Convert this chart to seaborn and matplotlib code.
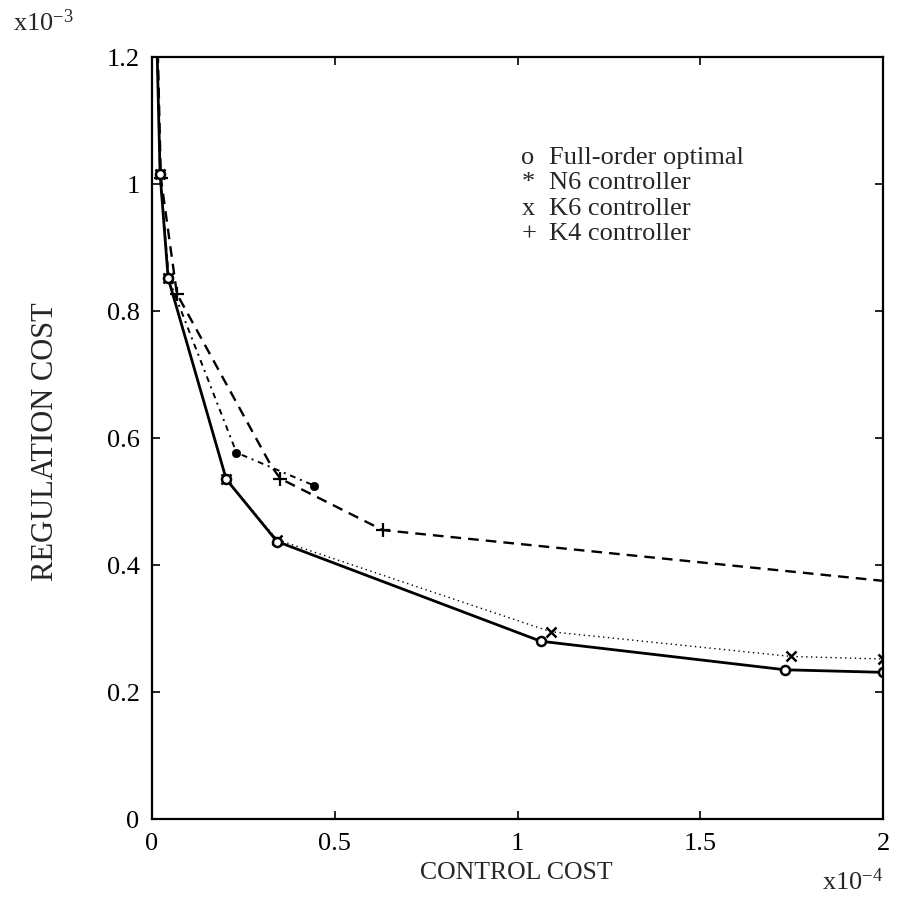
import matplotlib
matplotlib.use("Agg")
import matplotlib.pyplot as plt
import seaborn as sns
import pandas as pd

# ---- data (x in units of 1e-4, y in units of 1e-3) ----
full_x = [0.010, 0.022, 0.044, 0.203, 0.342, 1.063, 1.732, 2.000]
full_y = [1.300, 1.016, 0.852, 0.535, 0.437, 0.280, 0.235, 0.231]

n6_x = [0.010, 0.022, 0.046, 0.231, 0.444]
n6_y = [1.300, 1.016, 0.850, 0.577, 0.525]

k6_x = [0.010, 0.022, 0.044, 0.203, 0.342, 1.090, 1.748, 2.000]
k6_y = [1.300, 1.016, 0.852, 0.535, 0.440, 0.295, 0.256, 0.252]

k4_x = [0.012, 0.024, 0.068, 0.326, 0.351, 0.631, 2.000]
k4_y = [1.300, 1.010, 0.827, 0.556, 0.536, 0.455, 0.375]
k4_marked = [False, True, True, False, True, True, False]

legend_symbols = ["o", "*", "x", "+"]
legend_labels = ["Full-order optimal", "N6 controller", "K6 controller", "K4 controller"]

x_ticks = [0, 0.5, 1, 1.5, 2]
y_ticks = [0, 0.2, 0.4, 0.6, 0.8, 1.0, 1.2]

sns.set_theme(style="white")
plt.rcParams["font.family"] = ["Liberation Serif", "DejaVu Serif"]
plt.rcParams["mathtext.default"] = "regular"

fig = plt.figure(figsize=(9.05, 9.05), dpi=100)
ax = fig.add_axes([0.168, 0.095, 0.808, 0.842])

# K6 dotted (draw first so solid goes over)
sns.lineplot(x=k6_x, y=k6_y, ax=ax, sort=False, estimator=None, color="black",
             linewidth=1.0, linestyle=(0, (1, 2.5)), marker="x", markersize=7,
             markeredgewidth=1.8, markeredgecolor="black")
# K4 dashed
k4_mark_idx = [i for i, m in enumerate(k4_marked) if m]
sns.lineplot(x=k4_x, y=k4_y, ax=ax, sort=False, estimator=None, color="black",
             linewidth=1.7, linestyle=(0, (4.5, 3)), marker="+", markersize=10,
             markevery=k4_mark_idx,
             markeredgewidth=1.6, markeredgecolor="black")
# N6 dash-dot
sns.lineplot(x=n6_x, y=n6_y, ax=ax, sort=False, estimator=None, color="black",
             linewidth=1.4, linestyle=(0, (3, 2.5, 1, 2.5)), marker="o", markersize=6,
             markeredgewidth=0.5, markeredgecolor="black", markerfacecolor="black")
# Full-order optimal solid
sns.lineplot(x=full_x, y=full_y, ax=ax, sort=False, estimator=None, color="black",
             linewidth=2.0, linestyle="-", marker="o", markersize=6.5,
             markeredgewidth=1.8, markeredgecolor="black", markerfacecolor="white")

ax.set_xlim(0, 2)
ax.set_ylim(0, 1.2)
ax.set_xticks(x_ticks)
ax.set_yticks(y_ticks)
ax.set_xticklabels([f"{v:g}" for v in x_ticks])
ax.set_yticklabels([f"{v:g}" for v in y_ticks])
ax.tick_params(direction="in", length=6, width=1.2, color="black",
               top=True, right=True, bottom=True, left=True,
               labelsize=19, labelcolor="black")
ax.tick_params(axis="x", pad=10)
ax.tick_params(axis="y", pad=9)
for s in ax.spines.values():
    s.set_color("black")
    s.set_linewidth(1.6)
ax.set_xlabel("")
ax.set_ylabel("")

# Legend drawn as text lines with symbol characters
for i, (sym, lab) in enumerate(zip(legend_symbols, legend_labels)):
    yy = 0.868 - i * 0.0335
    ax.text(0.505, yy, sym, transform=ax.transAxes, fontsize=19, ha="left", va="center")
    ax.text(0.543, yy, lab, transform=ax.transAxes, fontsize=19, ha="left", va="center")

fig.text(0.571, 0.035, "CONTROL COST", fontsize=18.5, ha="center", va="center")
fig.text(0.050, 0.512, "REGULATION COST", fontsize=22, ha="center", va="center",
         rotation=90)
fig.text(0.014, 0.975, "x10$^{-3}$", fontsize=19, ha="left", va="center")
fig.text(0.976, 0.026, "x10$^{-4}$", fontsize=19, ha="right", va="center")

fig.savefig("out.png", dpi=100, facecolor="white")
